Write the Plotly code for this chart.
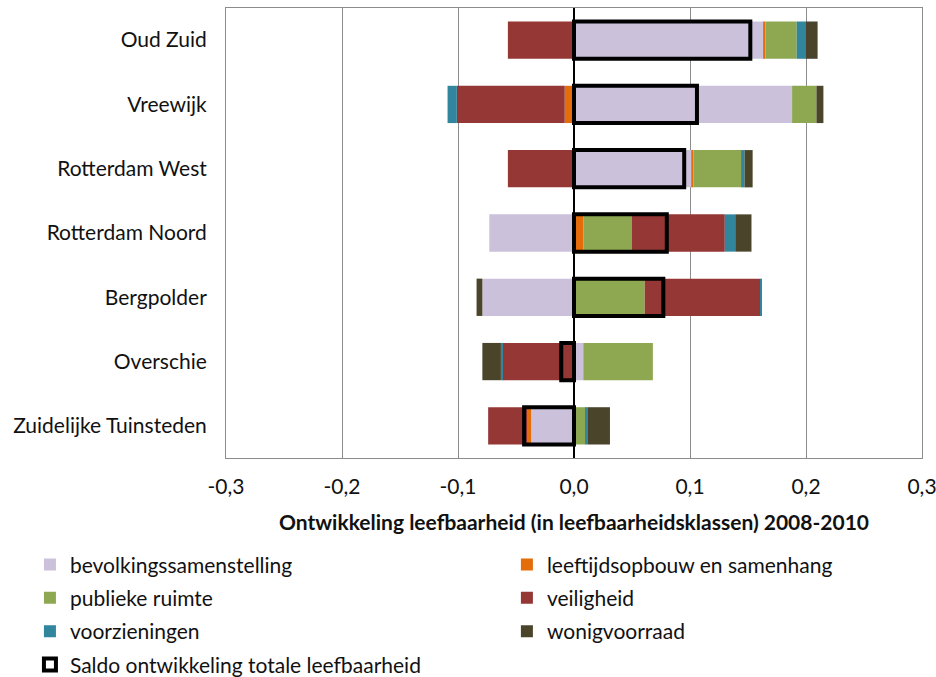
import plotly.graph_objects as go

categories = ["Oud Zuid", "Vreewijk", "Rotterdam West", "Rotterdam Noord",
              "Bergpolder", "Overschie", "Zuidelijke Tuinsteden"]

bevolkingssamenstelling = [0.163, 0.188, 0.101, -0.073, -0.079, 0.008, -0.037]
leeftijdsopbouw = [0.002, -0.008, 0.002, 0.008, 0.0, 0.0, -0.003]
publieke_ruimte = [0.027, 0.021, 0.041, 0.042, 0.061, 0.060, 0.010]
veiligheid = [-0.057, -0.093, -0.057, 0.080, 0.100, -0.062, -0.034]
voorzieningen = [0.008, -0.008, 0.003, 0.009, 0.001, -0.001, 0.0015]
wonigvoorraad = [0.010, 0.006, 0.007, 0.014, -0.005, -0.016, 0.0195]
saldo = [0.152, 0.106, 0.095, 0.080, 0.077, -0.011, -0.043]

tick_values = [-0.3, -0.2, -0.1, 0.0, 0.1, 0.2, 0.3]
tick_labels = ["-0,3", "-0,2", "-0,1", "0,0", "0,1", "0,2", "0,3"]

series = [
    ("bevolkingssamenstelling", bevolkingssamenstelling, "#CBC1DA", "legend"),
    ("leeftijdsopbouw en samenhang", leeftijdsopbouw, "#E46C0A", "legend2"),
    ("publieke ruimte", publieke_ruimte, "#8EA852", "legend"),
    ("veiligheid", veiligheid, "#953735", "legend2"),
    ("voorzieningen", voorzieningen, "#31859C", "legend"),
    ("wonigvoorraad", wonigvoorraad, "#4A452A", "legend2"),
]

FONT = "Lato"
fig = go.Figure()
for name, vals, color, lg in series:
    fig.add_trace(go.Bar(
        y=categories, x=vals, name=name, orientation="h",
        marker=dict(color=color, line=dict(width=0)),
        legend=lg, legendgroup=name,
    ))

fig.add_trace(go.Bar(
    y=categories, x=saldo, name="Saldo ontwikkeling totale leefbaarheid",
    orientation="h", yaxis="y2",
    marker=dict(color="rgba(255,255,255,0)", line=dict(color="black", width=4)),
    legend="legend", legendgroup="saldo",
))

fig.update_layout(
    width=936, height=677,
    margin=dict(l=226, r=14, t=8, b=219, autoexpand=False),
    barmode="relative", bargap=0.42,
    plot_bgcolor="white", paper_bgcolor="white",
    font=dict(family=FONT, size=21, color="#111111"),
    xaxis=dict(
        range=[-0.3, 0.3], tickvals=tick_values, ticktext=tick_labels,
        showgrid=True, gridcolor="#8c8c8c", gridwidth=1,
        zeroline=False, showline=True, linecolor="#8c8c8c", mirror=True,
        ticks="", ticklabelstandoff=10, automargin=False,
        ticklabeloverflow="allow",
        title=dict(text="<b>Ontwikkeling leefbaarheid (in leefbaarheidsklassen) 2008-2010</b>",
                   font=dict(size=21), standoff=18),
    ),
    yaxis=dict(
        categoryorder="array", categoryarray=categories,
        autorange="reversed", showgrid=False, zeroline=False,
        showline=True, linecolor="#8c8c8c", mirror=True,
        ticks="", ticklabelstandoff=14, automargin=False,
    ),
    yaxis2=dict(
        overlaying="y", matches="y", categoryorder="array", categoryarray=categories,
        showticklabels=False, showgrid=False, zeroline=False,
    ),
    shapes=[dict(type="line", xref="x", yref="paper", x0=0, x1=0, y0=0, y1=1,
                 line=dict(color="black", width=2), layer="above")],
    legend=dict(x=-0.2817, y=-0.192, xanchor="left", yanchor="top",
                tracegroupgap=3, font=dict(size=21), bgcolor="rgba(0,0,0,0)"),
    legend2=dict(x=0.4036, y=-0.192, xanchor="left", yanchor="top",
                 tracegroupgap=3, font=dict(size=21), bgcolor="rgba(0,0,0,0)"),
)

fig.write_html("out.html", config={"displayModeBar": False},
               post_script="document.body.style.margin='0';")
